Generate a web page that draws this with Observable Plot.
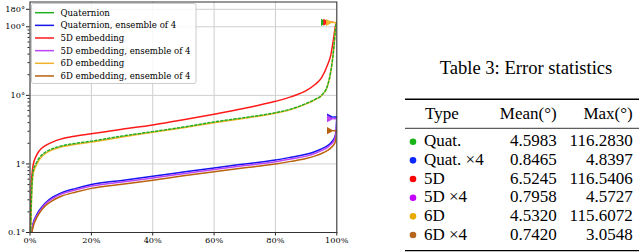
<!DOCTYPE html>
<html><head><meta charset="utf-8">
<script src="https://cdn.jsdelivr.net/npm/d3@7"></script>
<script src="https://cdn.jsdelivr.net/npm/@observablehq/plot@0.6"></script>
<style>
html,body{margin:0;padding:0;background:#fff}
body{width:640px;height:252px;overflow:hidden;position:relative}
#chart{position:absolute;left:0;top:0}
#table{position:absolute;left:380px;top:0}
</style></head><body>
<div id="chart"></div>
<svg id="table" width="260" height="252"></svg>
<script>
// ---- data ----
const percentiles = [0, 0.25, 0.5, 1, 2, 3, 5, 7.5, 10, 15, 20, 30, 40, 50, 60, 70, 80, 85, 90, 93, 95, 97, 98, 99, 99.5, 99.8, 100];
const quaternion   = [0.04, 0.15, 0.35, 0.78, 1.02, 1.22, 1.48, 1.68, 1.82, 2.0, 2.15, 2.55, 2.96, 3.45, 4.1, 4.75, 5.6, 6.3, 7.6, 8.8, 10, 14, 22, 48, 85, 110, 116.283];
const quaternion4  = [0.05, 0.08, 0.1, 0.135, 0.175, 0.21, 0.27, 0.33, 0.375, 0.44, 0.5, 0.575, 0.66, 0.76, 0.875, 1.0, 1.14, 1.25, 1.38, 1.52, 1.66, 1.85, 2.02, 2.3, 2.6, 3.2, 4.8397];
const embed5D      = [0.05, 0.25, 0.55, 0.95, 1.3, 1.55, 1.85, 2.1, 2.3, 2.55, 2.75, 3.2, 3.7, 4.4, 5.3, 6.5, 8.2, 9.5, 11.7, 14.5, 18, 28, 38, 70, 100, 113, 116.5406];
const embed5D4     = [0.05, 0.075, 0.095, 0.13, 0.168, 0.2, 0.26, 0.315, 0.36, 0.42, 0.475, 0.545, 0.625, 0.72, 0.83, 0.95, 1.08, 1.18, 1.3, 1.43, 1.56, 1.75, 1.9, 2.15, 2.45, 3.0, 4.5727];
const embed6D      = [0.04, 0.13, 0.3, 0.7, 0.95, 1.15, 1.42, 1.62, 1.76, 1.94, 2.08, 2.48, 2.9, 3.38, 4.0, 4.65, 5.5, 6.2, 7.5, 8.7, 9.9, 13.8, 21.5, 47, 84, 108, 115.6072];
const embed6D4     = [0.045, 0.07, 0.09, 0.12, 0.158, 0.19, 0.245, 0.295, 0.335, 0.39, 0.44, 0.505, 0.58, 0.67, 0.77, 0.88, 1.0, 1.09, 1.2, 1.31, 1.42, 1.58, 1.7, 1.9, 2.1, 2.45, 3.0548];

const seriesNames  = ["Quaternion", "Quaternion, ensemble of 4", "5D embedding", "5D embedding, ensemble of 4", "6D embedding", "6D embedding, ensemble of 4"];
const seriesColors = ["#22b022", "#1515ee", "#ff1a1a", "#bb44f5", "#f0b32a", "#b8620f"];

const xTicks = [0, 20, 40, 60, 80, 100];
const yTicks = [0.1, 1, 10, 100, 180];
const yMinor = [0.2,0.3,0.4,0.5,0.6,0.7,0.8,0.9,2,3,4,5,6,7,8,9,20,30,40,50,60,70,80,90];

const tableTitle = "Table 3: Error statistics";
const tableHeader = ["Type", "Mean(°)", "Max(°)"];
const tableTypes = ["Quat.", "Quat. ×4", "5D", "5D ×4", "6D", "6D ×4"];
const tableMean = ["4.5983", "0.8465", "6.5245", "0.7958", "4.5320", "0.7420"];
const tableMax  = ["116.2830", "4.8397", "116.5406", "4.5727", "115.6072", "3.0548"];
const tableDotColors = ["#18b418", "#0a28ff", "#ff0000", "#c400ff", "#e8aa00", "#b5651d"];

// ---- build ----
const allSeries = [quaternion, quaternion4, embed5D, embed5D4, embed6D, embed6D4];
const rows = [];
allSeries.forEach((vals, s) => vals.forEach((v, i) => rows.push({series: seriesNames[s], pct: percentiles[i], value: v})));
const markerRows = allSeries.map((vals, s) => ({series: seriesNames[s], pct: percentiles[percentiles.length - 1], value: +tableMax[s]}));
const markerDx = [-6, 0, -3.7, 0, -1, 0];

const flag = {draw(ctx) {
  ctx.moveTo(-9.8, -3.6); ctx.lineTo(-3, 0); ctx.lineTo(-9.8, 3.6); ctx.closePath();
  ctx.rect(-3.5, -0.75, 3.8, 1.5);
}};

const lineOf = (s, extra = {}) => Plot.line(rows.filter(d => d.series === seriesNames[s]), {
  x: "pct", y: "value", stroke: seriesColors[s], strokeWidth: 1.5, curve: "monotone-x", clip: true, ...extra
});
const markerOf = (s) => Plot.dot(markerRows.filter(d => d.series === seriesNames[s]), {
  x: "pct", y: "value", fill: seriesColors[s], stroke: "none", symbol: flag, r: 4, dx: markerDx[s]
});

const W = 352;
const chart = Plot.plot({
  width: W, height: 252,
  marginLeft: 29.5, marginRight: W - 336.3, marginTop: 1.5, marginBottom: 20,
  style: {fontFamily: "DejaVu Serif", background: "white", color: "#000"},
  x: {domain: [0, 100], label: null},
  y: {type: "log", domain: [0.1, 230], label: null},
  marks: [
    Plot.gridX(xTicks, {stroke: "#cfcfcf", strokeOpacity: 1, strokeWidth: 1}),
    Plot.gridY(yTicks, {stroke: "#cfcfcf", strokeOpacity: 1, strokeWidth: 1}),
    Plot.axisY(yMinor, {tickSize: 2, tickFormat: () => "", label: null, stroke: "#222"}),
    Plot.axisY(yTicks, {tickSize: 3.5, tickPadding: 1.5, tickFormat: d => d + "°", label: null, stroke: "#222", fontSize: 8.2, fill: "#000"}),
    Plot.axisX(xTicks, {tickSize: 3.5, tickPadding: 1.5, tickFormat: d => d + "%", label: null, stroke: "#222", fontSize: 8.2, fill: "#000"}),
    lineOf(1), lineOf(2), lineOf(3), lineOf(4), lineOf(5),
    lineOf(0, {strokeDasharray: "2.2,2.2"}),
    markerOf(0), markerOf(2), markerOf(4),
    markerOf(1), markerOf(3), markerOf(5),
    Plot.frame({stroke: "#333", strokeWidth: 1})
  ]
});
document.getElementById("chart").appendChild(chart);

// legend
const svg = d3.select(chart);
const lg = svg.append("g").attr("font-family", "DejaVu Serif").attr("font-size", "8.6px").attr("text-anchor", "start");
lg.append("rect").attr("x", 31.5).attr("y", 3.5).attr("width", 164.5).attr("height", 80)
  .attr("rx", 2).attr("fill", "white").attr("fill-opacity", 0.85).attr("stroke", "#cccccc");
seriesNames.forEach((name, i) => {
  const y = 12.7 + i * 12.65;
  lg.append("line").attr("x1", 35).attr("x2", 54).attr("y1", y).attr("y2", y)
    .attr("stroke", seriesColors[i]).attr("stroke-width", 1.5);
  lg.append("text").attr("x", 60.5).attr("y", y + 3).attr("fill", "#000").attr("text-anchor", "start").text(name);
});

// table
const tb = d3.select("#table").attr("font-family", "Liberation Serif").attr("fill", "#000");
const ox = 380;
tb.append("text").attr("x", 526 - ox).attr("y", 74).attr("text-anchor", "middle").attr("font-size", "18.6px").text(tableTitle);
const rule = (y, w) => tb.append("line").attr("x1", 405 - ox).attr("x2", 639 - ox).attr("y1", y).attr("y2", y).attr("stroke", "#000").attr("stroke-width", w);
rule(99.3, 1.4); rule(128.3, 0.8); rule(250.6, 1.4);
const hdr = tb.append("g").attr("font-size", "17px");
hdr.append("text").attr("x", 425 - ox).attr("y", 118.5).text(tableHeader[0]);
hdr.append("text").attr("x", 556.7 - ox).attr("y", 118.5).attr("text-anchor", "end").text(tableHeader[1]);
hdr.append("text").attr("x", 632.7 - ox).attr("y", 118.5).attr("text-anchor", "end").text(tableHeader[2]);
tableTypes.forEach((t, i) => {
  const y = 146.3 + i * 18.66;
  const g = tb.append("g").attr("font-size", "17px");
  g.append("circle").attr("cx", 413 - ox).attr("cy", y - 4.6).attr("r", 3.3).attr("fill", tableDotColors[i]);
  g.append("text").attr("x", 424 - ox).attr("y", y).text(t);
  g.append("text").attr("x", 556.7 - ox).attr("y", y).attr("text-anchor", "end").text(tableMean[i]);
  g.append("text").attr("x", 632.7 - ox).attr("y", y).attr("text-anchor", "end").text(tableMax[i]);
});
</script>
</body></html>
